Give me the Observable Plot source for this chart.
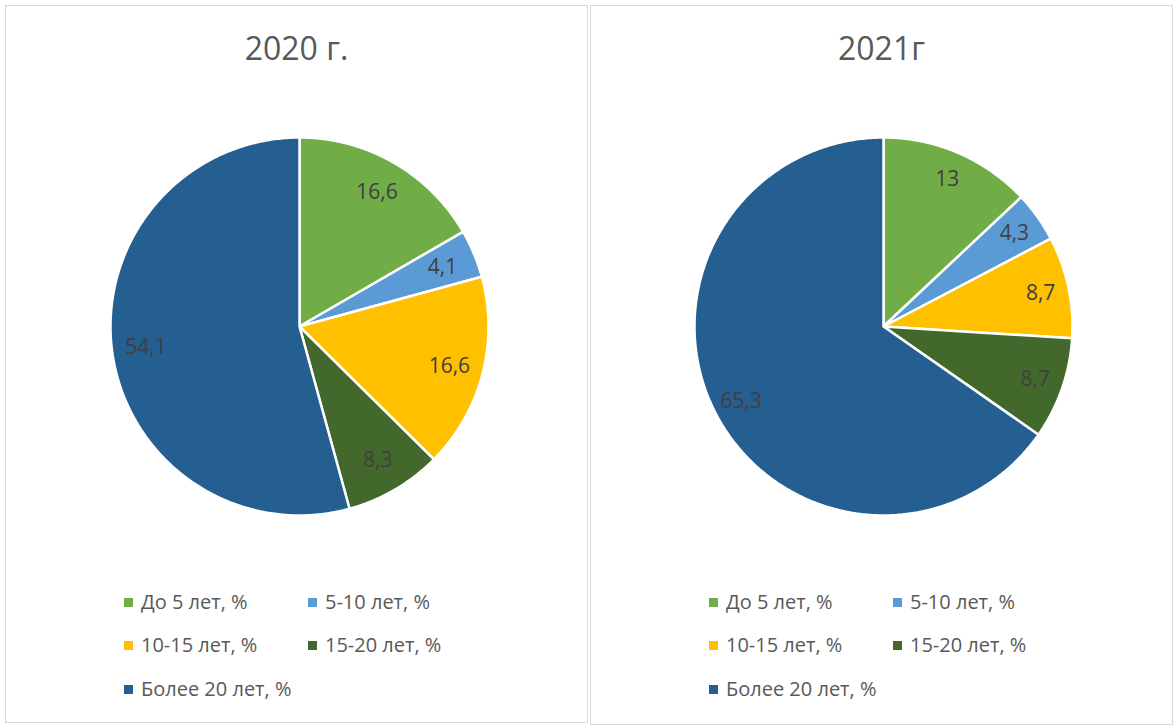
<!DOCTYPE html>
<html><head><meta charset="utf-8">
<script src="https://cdn.jsdelivr.net/npm/d3@7"></script>
<script src="https://cdn.jsdelivr.net/npm/@observablehq/plot@0.6"></script>
<style>
body{margin:0;background:#fff;font-family:"Open Sans",sans-serif;width:1176px;height:726px;position:relative;overflow:hidden}
.panel{position:absolute;border:1px solid #d9d9d9;box-sizing:border-box;background:#fff}
.title{position:absolute;left:0;right:0;text-align:center;color:#595959;font-size:32px;line-height:40px;height:40px}
.leg{position:absolute;font-size:20px;color:#595959;white-space:nowrap;display:flex;align-items:center;height:26px;line-height:26px}
.leg .sw{width:9px;height:9px;margin-right:8px;flex:none}
.pie{position:absolute}
</style></head><body>
<script>
const categories = ["До 5 лет, %", "5-10 лет, %", "10-15 лет, %", "15-20 лет, %", "Более 20 лет, %"];
const colors = ["#70AD47", "#5B9BD5", "#FFC000", "#43682B", "#255E91"];
const titles = ["2020 г.", "2021г"];
const values2020 = [16.6, 4.1, 16.6, 8.3, 54.1];
const values2021 = [13, 4.3, 8.7, 8.7, 65.3];

const R = 189, S = 400, H = S / 2 / R;
const fmt = v => String(v).replace(".", ",");

function makePanel(left, top, w, h, title, values, cx, cy, labelR) {
  const panel = document.createElement("div");
  panel.className = "panel";
  Object.assign(panel.style, {left: left + "px", top: top + "px", width: w + "px", height: h + "px"});
  document.body.appendChild(panel);

  const t = document.createElement("div");
  t.className = "title"; t.style.top = "22px"; t.textContent = title;
  panel.appendChild(t);

  const arcs = d3.pie().sort(null)(values);
  const rows = [];
  const labelRows = [];
  arcs.forEach((a, i) => {
    const cat = categories[i];
    rows.push({cat, x: 0, y: 0});
    const n = Math.max(2, Math.ceil((a.endAngle - a.startAngle) / 0.01));
    for (let k = 0; k <= n; k++) {
      const ang = a.startAngle + (a.endAngle - a.startAngle) * k / n;
      rows.push({cat, x: Math.sin(ang), y: Math.cos(ang)});
    }
    rows.push({cat, x: 0, y: 0});
    const mid = (a.startAngle + a.endAngle) / 2;
    labelRows.push({x: labelR * Math.sin(mid), y: labelR * Math.cos(mid), text: fmt(values[i])});
  });

  const chart = Plot.plot({
    width: S, height: S, margin: 0,
    x: {domain: [-H, H], axis: null},
    y: {domain: [-H, H], axis: null},
    color: {domain: categories, range: colors},
    style: {background: "transparent", overflow: "visible"},
    marks: [
      Plot.line(rows, {x: "x", y: "y", z: "cat", fill: "cat", stroke: "white", strokeWidth: 2.5, strokeLinejoin: "round", curve: "linear"}),
      Plot.text(labelRows, {x: "x", y: "y", text: "text", fill: "#404040", fontSize: 21, fontFamily: "Open Sans"})
    ]
  });
  chart.classList.add("pie");
  chart.style.left = (cx - S / 2) + "px";
  chart.style.top = (cy - S / 2) + "px";
  panel.appendChild(chart);

  const pos = [[118, 596], [302, 596], [118, 639], [302, 639], [118, 683]];
  categories.forEach((c, i) => {
    const d = document.createElement("div");
    d.className = "leg";
    d.style.left = pos[i][0] + "px";
    d.style.top = (pos[i][1] - 13) + "px";
    const sw = document.createElement("span");
    sw.className = "sw"; sw.style.background = colors[i];
    d.appendChild(sw);
    d.appendChild(document.createTextNode(c));
    panel.appendChild(d);
  });
}

makePanel(5, 5, 583, 718, titles[0], values2020, 292.5, 319.5, 0.82);
makePanel(590, 5, 583, 720, titles[1], values2021, 291.5, 320, 0.85);
</script>
</body></html>
